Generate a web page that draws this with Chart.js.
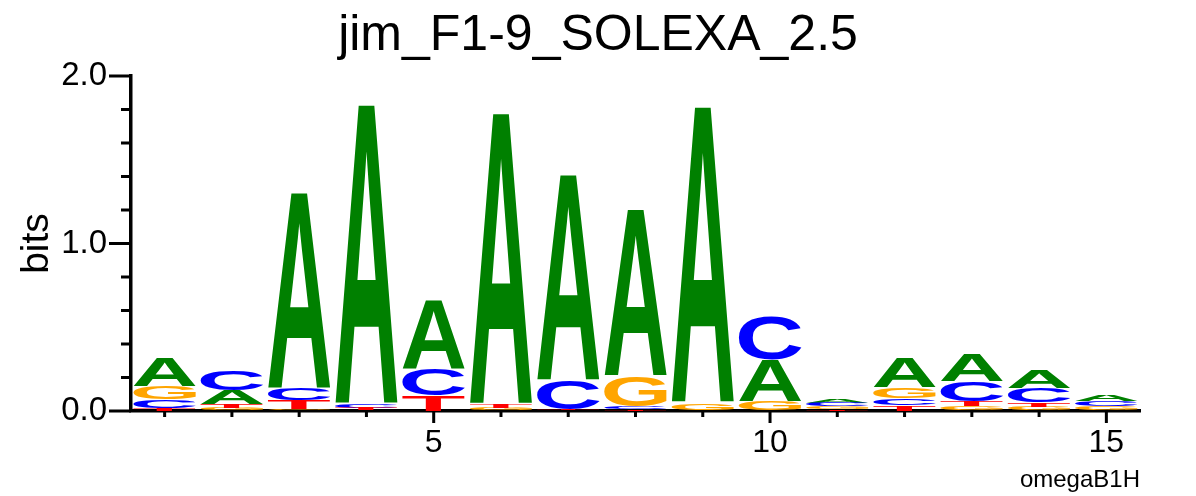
<!DOCTYPE html>
<html>
<head>
<meta charset="utf-8">
<script src="https://cdn.jsdelivr.net/npm/chart.js@4/dist/chart.umd.min.js"></script>
<style>
  html, body { margin: 0; padding: 0; background: #fff; }
</style>
</head>
<body>
<canvas id="logo" width="1196" height="496"></canvas>
<script>
// positions along the motif
const positions = ['1','2','3','4','5','6','7','8','9','10','11','12','13','14','15'];

// information (bits) carried by each base at each position
const bitsA = [0.17, 0.08, 1.17, 1.79, 0.405, 1.74, 1.23, 0.99, 1.77, 0.245, 0.025, 0.18, 0.16, 0.105, 0.035];
const bitsC = [0.05, 0.12, 0.07, 0.02, 0.16, 0.005, 0.17, 0.015, 0.0, 0.26, 0.02, 0.042, 0.115, 0.085, 0.03];
const bitsG = [0.08, 0.018, 0.012, 0.003, 0.0, 0.012, 0.005, 0.18, 0.04, 0.06, 0.017, 0.065, 0.028, 0.024, 0.025];
const bitsT = [0.02, 0.025, 0.05, 0.015, 0.095, 0.02, 0.005, 0.012, 0.005, 0.0, 0.012, 0.035, 0.032, 0.026, 0.005];

const yTicks = [0, 1, 2];
const titleText = 'jim_F1-9_SOLEXA_2.5';
const footText = 'omegaB1H';

const bases = ['A', 'C', 'G', 'T'];
const baseBits = { A: bitsA, C: bitsC, G: bitsG, T: bitsT };
const baseColors = { A: '#008000', C: '#0000ff', G: '#ffa500', T: '#ff0000' };

// stack letters per column: smallest at the bottom, largest on top
const ranges = { A: [], C: [], G: [], T: [] };
positions.forEach((p, i) => {
  const order = bases.slice().sort((a, b) => baseBits[a][i] - baseBits[b][i]);
  let base = 0;
  order.forEach(b => {
    const h = baseBits[b][i];
    ranges[b].push(h > 0 ? [base, base + h] : null);
    base += h;
  });
});

const FONT = '"Liberation Sans", Arial, Helvetica, sans-serif';

// draws each bar as a stretched letter glyph
const glyphPlugin = {
  id: 'glyphs',
  afterDatasetsDraw(chart) {
    const ctx = chart.ctx;
    ctx.save();
    ctx.font = 'bold 200px ' + FONT;
    ctx.textAlign = 'left';
    ctx.textBaseline = 'alphabetic';
    chart.data.datasets.forEach((ds, di) => {
      const meta = chart.getDatasetMeta(di);
      const m = ctx.measureText(ds.label);
      const gw = m.actualBoundingBoxLeft + m.actualBoundingBoxRight;
      const gh = m.actualBoundingBoxAscent + m.actualBoundingBoxDescent;
      meta.data.forEach((bar, i) => {
        if (!ds.data[i]) return;
        const { x, y, base, width } = bar.getProps(['x', 'y', 'base', 'width'], true);
        const h = base - y;
        if (h <= 0) return;
        ctx.save();
        ctx.translate(x - width / 2, y);
        ctx.scale(width / gw, h / gh);
        ctx.fillStyle = baseColors[ds.label];
        ctx.fillText(ds.label, m.actualBoundingBoxLeft, m.actualBoundingBoxAscent);
        ctx.restore();
      });
    });
    ctx.restore();
  }
};

// tick marks: long at labelled values, short in between
const tickPlugin = {
  id: 'tickMarks',
  afterDraw(chart) {
    const ctx = chart.ctx;
    const xs = chart.scales.x, ys = chart.scales.y;
    const left = chart.chartArea.left, bottom = chart.chartArea.bottom;
    ctx.save();
    ctx.strokeStyle = '#000';
    ctx.lineWidth = 3;
    ctx.beginPath();
    for (let k = 0; k <= 10; k++) {
      const v = k / 5;
      const py = ys.getPixelForValue(v);
      const len = k % 5 === 0 ? 22 : 10;
      ctx.moveTo(left - len, py);
      ctx.lineTo(left, py);
    }
    positions.forEach((p, i) => {
      const px = xs.getPixelForValue(i);
      const len = (i + 1) % 5 === 0 ? 12 : 6;
      ctx.moveTo(px, bottom);
      ctx.lineTo(px, bottom + len);
    });
    ctx.stroke();
    ctx.restore();
  }
};

new Chart(document.getElementById('logo'), {
  type: 'bar',
  data: {
    labels: positions,
    datasets: bases.map(b => ({
      label: b,
      data: ranges[b],
      backgroundColor: 'rgba(0,0,0,0)',
      borderWidth: 0,
      grouped: false,
      categoryPercentage: 1.0,
      barPercentage: 0.93
    }))
  },
  options: {
    responsive: false,
    animation: false,
    plugins: {
      legend: { display: false },
      tooltip: { enabled: false },
      title: {
        display: true,
        text: titleText,
        color: '#000',
        font: { family: FONT, size: 50, weight: 'normal', lineHeight: 1.0 },
        padding: { top: 11, bottom: 15 }
      }
    },
    scales: {
      x: {
        type: 'category',
        offset: true,
        grid: { drawOnChartArea: false, drawTicks: false },
        border: { display: true, color: '#000', width: 3.5 },
        ticks: {
          color: '#000',
          font: { family: FONT, size: 32 },
          padding: 13,
          autoSkip: false,
          maxRotation: 0,
          callback: (v, i) => (i + 1) % 5 === 0 ? positions[i] : ''
        },
        title: {
          display: true,
          text: footText,
          align: 'end',
          color: '#000',
          font: { family: FONT, size: 24 },
          padding: { top: 0, bottom: 1 }
        },
        afterFit: s => { s.height = 85; }
      },
      y: {
        type: 'linear',
        min: 0,
        max: 2,
        grid: { drawOnChartArea: false, drawTicks: false },
        border: { display: true, color: '#000', width: 3.5 },
        afterBuildTicks: s => { s.ticks = yTicks.map(v => ({ value: v })); },
        ticks: {
          color: '#000',
          font: { family: FONT, size: 33 },
          padding: 24,
          callback: v => v.toFixed(1)
        },
        title: {
          display: true,
          text: 'bits',
          color: '#000',
          font: { family: FONT, size: 39 },
          padding: { top: 14, bottom: 0 }
        },
        afterFit: s => { s.width = 131; }
      },
      // empty spacer so the plot stops short of the right edge
      yRight: {
        type: 'linear',
        position: 'right',
        display: true,
        grid: { display: false },
        border: { display: false },
        ticks: { display: false },
        afterFit: s => { s.width = 56; }
      }
    }
  },
  plugins: [glyphPlugin, tickPlugin]
});
</script>
</body>
</html>
